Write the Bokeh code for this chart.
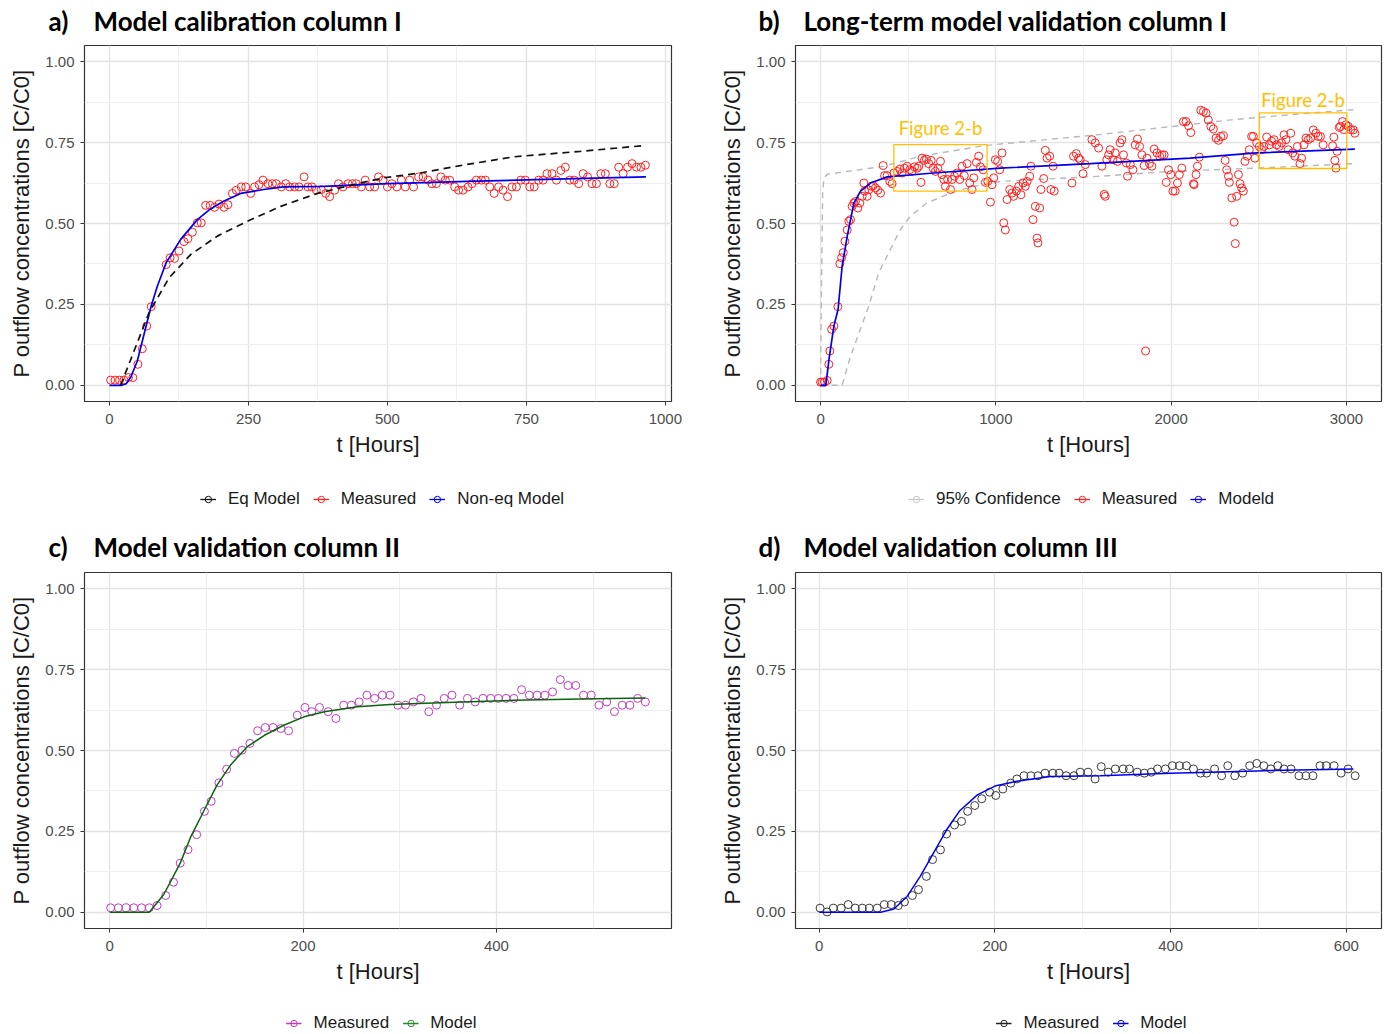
from bokeh.plotting import figure
from bokeh.models import Range1d, FixedTicker, NumeralTickFormatter, Legend, LegendItem, Label
from bokeh.layouts import column, row
from bokeh.embed import file_html
from bokeh.resources import INLINE
from bokeh.core.properties import value

# ---------------- data ----------------
# a) Model calibration column I
a_meas_t = [2, 10, 18, 26, 34, 42, 51, 59, 67, 75, 102, 109, 117, 125, 134, 141, 149, 158, 165, 173,
            181, 189, 197, 206, 213, 221, 228, 237, 245, 254, 261, 269, 276, 285, 293, 300, 309, 317, 324, 333,
            341, 350, 357, 364, 372, 381, 389, 396, 405, 412, 420, 429, 437, 444, 453, 460, 468, 477, 484, 492,
            500, 508, 517, 525, 532, 540, 547, 556, 564, 573, 580, 588, 596, 604, 612, 621, 628, 636, 645, 652,
            660, 669, 676, 684, 692, 700, 708, 716, 724, 732, 740, 748, 756, 764, 772, 780, 787, 796, 804, 812,
            820, 828, 836, 844, 852, 860, 868, 876, 884, 892, 900, 908, 916, 924, 932, 940, 948, 956, 964]
a_meas_c = [0.016, 0.016, 0.016, 0.016, 0.024, 0.024, 0.065, 0.113, 0.183, 0.243, 0.373, 0.394, 0.392, 0.415,
            0.444, 0.453, 0.473, 0.502, 0.502, 0.556, 0.556, 0.55, 0.56, 0.55, 0.558, 0.593, 0.603, 0.613, 0.613,
            0.593, 0.613, 0.62, 0.634, 0.623, 0.623, 0.623, 0.613, 0.623, 0.613, 0.613, 0.613, 0.644, 0.613, 0.613,
            0.603, 0.605, 0.593, 0.583, 0.603, 0.623, 0.613, 0.623, 0.623, 0.623, 0.613, 0.634, 0.613, 0.613, 0.644,
            0.634, 0.613, 0.623, 0.613, 0.634, 0.613, 0.634, 0.613, 0.644, 0.644, 0.634, 0.623, 0.623, 0.644, 0.634,
            0.634, 0.613, 0.603, 0.603, 0.613, 0.623, 0.634, 0.634, 0.634, 0.613, 0.593, 0.613, 0.603, 0.583, 0.613,
            0.613, 0.634, 0.634, 0.613, 0.613, 0.634, 0.634, 0.654, 0.654, 0.634, 0.664, 0.674, 0.634, 0.634, 0.623,
            0.654, 0.644, 0.623, 0.623, 0.654, 0.654, 0.623, 0.623, 0.674, 0.654, 0.674, 0.685, 0.674, 0.674, 0.68]
a_noneq_t = [0, 22, 30, 38, 50, 62, 75, 86, 102, 128, 158, 180, 205, 236, 277, 313, 385, 500, 644, 800, 965]
a_noneq_c = [0, 0, 0.005, 0.024, 0.075, 0.157, 0.245, 0.306, 0.379, 0.451, 0.512, 0.543, 0.569, 0.593,
             0.605, 0.613, 0.615, 0.623, 0.63, 0.637, 0.644]
a_eq_t = [20, 71, 107, 146, 194, 248, 308, 374, 446, 493, 559, 631, 727, 847, 964]
a_eq_c = [0.0, 0.224, 0.332, 0.404, 0.461, 0.507, 0.553, 0.593, 0.623, 0.641, 0.656, 0.679, 0.706, 0.723, 0.741]

# b) Long-term model validation column I
b_meas_t = [0, 9, 23, 38, 47, 53, 63, 76, 99, 110, 120, 129, 139, 152, 161, 171, 180, 190, 199, 213, 224, 237,
            247, 251, 266, 275, 289, 300, 313, 327, 342, 357, 365, 380, 395, 408, 418, 437, 452, 465, 479, 494,
            509, 522, 536, 551, 560, 573, 579, 592, 604, 617, 631, 642, 655, 669, 684, 693, 703, 712, 725, 741,
            750, 764, 779, 794, 807, 820, 836, 851, 864, 874, 889, 902, 912, 927, 940, 954, 969, 978, 988, 997,
            1010, 1022, 1035, 1045, 1054, 1064, 1079, 1092, 1101, 1117, 1130, 1143, 1155, 1168, 1178, 1193, 1200,
            1212, 1225, 1235, 1240, 1250, 1257, 1273, 1282, 1292, 1307, 1314, 1326, 1333, 1434, 1443, 1459, 1472,
            1481, 1497, 1510, 1548, 1567, 1586, 1605, 1618, 1624, 1633, 1643, 1652, 1668, 1681, 1694, 1709, 1719,
            1728, 1744, 1751, 1767, 1782, 1795, 1808, 1820, 1833, 1846, 1854, 1862, 1876, 1890, 1903, 1919, 1934,
            1947, 1960, 1972, 1985, 1998, 2010, 2023, 2036, 2047, 2061, 2070, 2085, 2099, 2112, 2127, 2131, 2142,
            2150, 2161, 2169, 2184, 2199, 2212, 2226, 2241, 2256, 2270, 2283, 2298, 2308, 2317, 2327, 2332, 2346,
            2359, 2366, 2374, 2384, 2393, 2402, 2412, 2421, 2434, 2446, 2459, 2469, 2478, 2488, 2503, 2516, 2529,
            2545, 2560, 2573, 2587, 2602, 2617, 2630, 2644, 2655, 2668, 2682, 2693, 2706, 2720, 2735, 2744, 2758,
            2769, 2782, 2796, 2811, 2826, 2839, 2852, 2867, 2921, 2928, 2934, 2940, 2947, 2959, 2966, 2978, 2985,
            2997, 3010, 3024, 3039, 3048]
b_meas_c = [0.01, 0.01, 0.01, 0.015, 0.065, 0.106, 0.173, 0.183, 0.243, 0.376, 0.394, 0.41, 0.445, 0.48, 0.507,
            0.512, 0.553, 0.563, 0.568, 0.548, 0.563, 0.584, 0.625, 0.6, 0.584, 0.604, 0.615, 0.617, 0.61, 0.603,
            0.594, 0.679, 0.648, 0.648, 0.63, 0.623, 0.656, 0.661, 0.668, 0.656, 0.671, 0.677, 0.666, 0.661, 0.675,
            0.671, 0.677, 0.627, 0.702, 0.695, 0.699, 0.685, 0.695, 0.671, 0.661, 0.671, 0.692, 0.651, 0.636, 0.615,
            0.636, 0.605, 0.636, 0.646, 0.656, 0.636, 0.677, 0.648, 0.685, 0.625, 0.605, 0.641, 0.689, 0.708, 0.675,
            0.666, 0.627, 0.63, 0.566, 0.62, 0.641, 0.697, 0.692, 0.666, 0.718, 0.502, 0.48, 0.574, 0.605, 0.594,
            0.584, 0.6, 0.615, 0.589, 0.625, 0.615, 0.63, 0.646, 0.677, 0.512, 0.553, 0.455, 0.44, 0.548, 0.605,
            0.639, 0.726, 0.702, 0.708, 0.605, 0.677, 0.6, 0.625, 0.708, 0.716, 0.702, 0.697, 0.654, 0.682, 0.759,
            0.749, 0.733, 0.677, 0.59, 0.584, 0.697, 0.712, 0.728, 0.697, 0.718, 0.692, 0.749, 0.759, 0.712, 0.687,
            0.646, 0.682, 0.666, 0.743, 0.761, 0.738, 0.712, 0.679, 0.106, 0.702, 0.685, 0.677, 0.73, 0.718, 0.708,
            0.712, 0.712, 0.627, 0.666, 0.651, 0.6, 0.6, 0.625, 0.651, 0.671, 0.815, 0.815, 0.802, 0.781, 0.623,
            0.62, 0.651, 0.677, 0.705, 0.85, 0.846, 0.841, 0.82, 0.8, 0.792, 0.764, 0.757, 0.769, 0.771, 0.695,
            0.666, 0.646, 0.627, 0.579, 0.504, 0.438, 0.584, 0.651, 0.623, 0.61, 0.6, 0.692, 0.708, 0.728, 0.769,
            0.769, 0.702, 0.749, 0.738, 0.728, 0.738, 0.767, 0.743, 0.754, 0.759, 0.743, 0.738, 0.749, 0.774, 0.759,
            0.728, 0.779, 0.718, 0.708, 0.738, 0.685, 0.702, 0.743, 0.764, 0.759, 0.764, 0.789, 0.779, 0.769, 0.769,
            0.743, 0.74, 0.767, 0.695, 0.671, 0.723, 0.797, 0.8, 0.815, 0.79, 0.805, 0.8, 0.79, 0.789, 0.779]
b_model_t = [0, 30, 48, 76, 100, 123, 152, 190, 228, 285, 380, 646, 1026, 1538, 2108, 2488, 3048]
b_model_c = [0, 0, 0.08, 0.183, 0.235, 0.368, 0.46, 0.563, 0.6, 0.625, 0.644, 0.656, 0.671, 0.685, 0.702,
             0.718, 0.73]
b_upper_t = [0, 5, 12, 20, 38, 361, 570, 940, 1595, 2355, 2678, 3048]
b_upper_c = [0, 0.3, 0.6, 0.64, 0.652, 0.677, 0.708, 0.741, 0.775, 0.821, 0.836, 0.852]
b_lower_t = [0, 123, 171, 275, 332, 389, 456, 513, 608, 741, 874, 1026, 1595, 1994, 2488, 3048]
b_lower_c = [0, 0, 0.09, 0.245, 0.348, 0.41, 0.482, 0.523, 0.564, 0.594, 0.615, 0.63, 0.646, 0.661, 0.671,
             0.685]
box_left = [418, 2503]
box_right = [950, 3002]
box_bottom = [0.600, 0.670]
box_top = [0.744, 0.842]
box_label = ["Figure 2-b", "Figure 2-b"]
box_label_t = [684, 2752]
box_label_c = [0.796, 0.883]

# c) Model validation column II
c_meas_t = [1, 9, 17, 25, 33, 41, 49, 58, 66, 73, 81, 90, 98, 105, 113, 121, 129, 137, 145, 153, 161, 169,
            177, 185, 194, 202, 209, 217, 226, 234, 242, 250, 258, 266, 274, 282, 290, 298, 306, 314, 322, 330,
            338, 346, 354, 362, 370, 378, 386, 394, 402, 410, 418, 426, 434, 442, 450, 458, 466, 474, 482, 490,
            498, 506, 514, 522, 530, 538, 546, 554]
c_meas_c = [0.014, 0.014, 0.014, 0.014, 0.014, 0.014, 0.021, 0.052, 0.093, 0.152, 0.194, 0.24, 0.312, 0.343,
            0.4, 0.442, 0.491, 0.501, 0.522, 0.561, 0.571, 0.571, 0.568, 0.561, 0.609, 0.633, 0.62, 0.633, 0.62,
            0.599, 0.64, 0.64, 0.65, 0.671, 0.661, 0.671, 0.671, 0.64, 0.64, 0.65, 0.661, 0.62, 0.64, 0.661,
            0.671, 0.64, 0.661, 0.65, 0.661, 0.661, 0.661, 0.661, 0.661, 0.688, 0.671, 0.671, 0.671, 0.681,
            0.719, 0.701, 0.701, 0.671, 0.671, 0.64, 0.65, 0.62, 0.64, 0.64, 0.661, 0.65]
c_model_t = [0, 41, 56, 73, 84, 98, 111, 125, 142, 160, 180, 201, 222, 256, 290, 349, 418, 487, 554]
c_model_c = [0, 0, 0.055, 0.152, 0.234, 0.317, 0.393, 0.455, 0.511, 0.547, 0.578, 0.604, 0.62, 0.635, 0.642,
             0.648, 0.655, 0.659, 0.662]

# d) Model validation column III
d_meas_t = [1, 9, 16, 25, 33, 41, 49, 57, 66, 74, 82, 90, 97, 106, 113, 122, 129, 138, 145, 154, 162, 169,
            177, 185, 194, 201, 209, 218, 225, 233, 241, 249, 257, 266, 273, 281, 290, 297, 306, 314, 321, 329,
            337, 346, 353, 362, 370, 378, 385, 394, 402, 410, 418, 426, 434, 441, 450, 458, 465, 473, 482, 490,
            498, 506, 514, 522, 529, 537, 546, 554, 562, 570, 577, 586, 594, 602, 610]
d_meas_c = [0.013, 0.001, 0.013, 0.013, 0.024, 0.013, 0.013, 0.013, 0.013, 0.024, 0.024, 0.021, 0.032, 0.052,
            0.07, 0.111, 0.163, 0.193, 0.242, 0.27, 0.281, 0.312, 0.33, 0.351, 0.371, 0.361, 0.381, 0.399, 0.412,
            0.422, 0.422, 0.422, 0.43, 0.43, 0.43, 0.422, 0.422, 0.433, 0.433, 0.412, 0.45, 0.433, 0.443, 0.443,
            0.443, 0.433, 0.43, 0.433, 0.443, 0.443, 0.453, 0.453, 0.453, 0.443, 0.43, 0.43, 0.443, 0.422, 0.453,
            0.422, 0.43, 0.453, 0.46, 0.453, 0.443, 0.453, 0.443, 0.443, 0.422, 0.422, 0.422, 0.453, 0.453,
            0.453, 0.43, 0.443, 0.422]
d_model_t = [0, 70, 85, 100, 115, 130, 145, 160, 180, 200, 225, 263, 320, 400, 498, 608]
d_model_c = [0, 0, 0.01, 0.049, 0.111, 0.183, 0.255, 0.314, 0.363, 0.39, 0.405, 0.42, 0.422, 0.43, 0.437,
             0.443]

y_ticks = [0, 0.25, 0.5, 0.75, 1.0]
y_minor = [0.125, 0.375, 0.625, 0.875]

TICK_FONT = "Liberation Sans"
W_LEFT, W_RIGHT = 711, 672

RED, BLUE, BLACK, GRAY = "#ff2020", "#0000ee", "#111111", "#b8b8b8"
MAGENTA, GREEN, DARK = "#c03cc0", "#0a640a", "#3a3a3a"


def make_fig(width, height, bottom, xr, xticks, xminor, right):
    p = figure(width=width, height=height, output_backend="svg", toolbar_location=None, title=None,
               x_range=Range1d(*xr), y_range=Range1d(-0.05, 1.05),
               min_border_left=84, min_border_right=right, min_border_top=1, min_border_bottom=bottom)
    p.xaxis.ticker = FixedTicker(ticks=xticks, minor_ticks=xminor)
    p.yaxis.ticker = FixedTicker(ticks=y_ticks, minor_ticks=y_minor)
    p.yaxis.formatter = NumeralTickFormatter(format="0.00")
    for ax in p.axis:
        ax.axis_line_color = None
        ax.major_tick_line_color = "#333333"
        ax.major_tick_out = 4
        ax.major_tick_in = 0
        ax.minor_tick_line_color = None
        ax.major_label_text_font = TICK_FONT
        ax.major_label_text_font_size = "15px"
        ax.major_label_text_color = "#4d4d4d"
        ax.axis_label_text_font = TICK_FONT
        ax.axis_label_text_font_size = "22px"
        ax.axis_label_text_font_style = "normal"
        ax.axis_label_text_color = "#1a1a1a"
    p.yaxis.major_label_standoff = 6
    p.yaxis.axis_label_standoff = 8
    p.xaxis.major_label_standoff = 8
    p.xaxis.axis_label_standoff = 5
    p.xaxis.axis_label = "t [Hours]"
    p.yaxis.axis_label = "P outflow concentrations [C/C0]"
    p.grid.grid_line_color = "#e3e3e3"
    p.grid.grid_line_width = 1.3
    p.grid.minor_grid_line_color = "#eeeeee"
    p.grid.minor_grid_line_width = 1
    p.outline_line_color = "#333333"
    p.outline_line_width = 1.2
    return p


def strip(width, height, left=0, right=0):
    s = figure(width=width, height=height, output_backend="svg", toolbar_location=None, title=None,
               x_range=Range1d(-2, -1), y_range=Range1d(-2, -1), x_axis_type=None, y_axis_type=None,
               min_border_left=left, min_border_right=right, min_border_top=0, min_border_bottom=0)
    s.outline_line_color = None
    s.grid.visible = False
    return s


def title_strip(width, height, tag, title, x_tag, x_title, y):
    s = strip(width, height)
    for txt, x in ((tag, x_tag), (title, x_title)):
        s.add_layout(Label(x=x, y=y, x_units="screen", y_units="screen", text=txt,
                           text_font="Lato", text_font_size="26px", text_font_style="bold",
                           text_color="#000000", text_baseline="middle", text_align="left"))
    return s


def legend_strip(width, height, left, right, series, top_margin):
    s = strip(width, height, left, right)
    items = []
    for label, color, xs, ys in series:
        lr = s.line(xs, ys, line_color=color, line_width=1.3)
        sr = s.scatter(xs, ys, marker="circle", fill_color=None, line_color=color, line_width=1)
        items.append(LegendItem(label=label, renderers=[lr, sr]))
    leg = Legend(items=items, orientation="horizontal", location="top_center",
                 border_line_color=None, background_fill_alpha=0, padding=0, margin=top_margin,
                 spacing=13, label_standoff=12, glyph_width=16, glyph_height=20, label_height=20,
                 label_text_font=TICK_FONT, label_text_font_size="17px", label_text_color="#1a1a1a")
    s.add_layout(leg)
    return s


# ---------- titles ----------
ta = title_strip(W_LEFT, 44, "a)", "Model calibration column I", 48, 93, 24)
tb = title_strip(W_RIGHT, 44, "b)", "Long-term model validation column I", 47, 92, 24)
tc = title_strip(W_LEFT, 41, "c)", "Model validation column II", 48, 93, 25)
td = title_strip(W_RIGHT, 41, "d)", "Model validation column III", 47, 92, 25)

# ---------- a ----------
pa = make_fig(W_LEFT, 440, 83, (-45, 1011), [0, 250, 500, 750, 1000], [125, 375, 625, 875], 40)
pa.scatter(a_meas_t, a_meas_c, marker="circle", size=8, fill_color=None, line_color=RED, line_width=1)
pa.line(a_noneq_t, a_noneq_c, line_color=BLUE, line_width=1.7)
pa.line(a_eq_t, a_eq_c, line_color=BLACK, line_width=1.7, line_dash="7 5")
la = legend_strip(W_LEFT, 46, 95, 42, [("Eq Model", BLACK, a_eq_t, a_eq_c),
                                       ("Measured", RED, a_meas_t, a_meas_c),
                                       ("Non-eq Model", BLUE, a_noneq_t, a_noneq_c)], 5)

# ---------- b ----------
pb = make_fig(W_RIGHT, 440, 83, (-143, 3200), [0, 1000, 2000, 3000], [500, 1500, 2500], 2)
pb.line(b_upper_t, b_upper_c, line_color=GRAY, line_width=1.4, line_dash="6 5")
pb.line(b_lower_t, b_lower_c, line_color=GRAY, line_width=1.4, line_dash="6 5")
pb.scatter(b_meas_t, b_meas_c, marker="circle", size=8, fill_color=None, line_color=RED, line_width=1)
pb.line(b_model_t, b_model_c, line_color=BLUE, line_width=1.7)
pb.quad(left=box_left, right=box_right, bottom=box_bottom, top=box_top, fill_color=None,
        line_color="#ffc000", line_width=1.3)
pb.text(x=box_label_t, y=box_label_c, text=box_label, text_font=value("Lato"), text_font_size="18.5px",
        text_color="#ffc000", text_align="center", text_baseline="middle")
lb = legend_strip(W_RIGHT, 46, 90, 2, [("95% Confidence", "#c8c8c8", b_upper_t, b_upper_c),
                                      ("Measured", RED, b_meas_t, b_meas_c),
                                      ("Modeld", BLUE, b_model_t, b_model_c)], 5)

# ---------- c ----------
pc = make_fig(W_LEFT, 439, 82, (-26, 581), [0, 200, 400], [100, 300, 500], 40)
pc.scatter(c_meas_t, c_meas_c, marker="circle", size=8, fill_color=None, line_color=MAGENTA, line_width=1)
pc.line(c_model_t, c_model_c, line_color=GREEN, line_width=1.5)
lc = legend_strip(W_LEFT, 23, 93, 42, [("Measured", MAGENTA, c_meas_t, c_meas_c),
                                       ("Model", "#2a8a2a", c_model_t, c_model_c)], 3)

# ---------- d ----------
pd_ = make_fig(W_RIGHT, 439, 82, (-27, 640), [0, 200, 400, 600], [100, 300, 500], 2)
pd_.scatter(d_meas_t, d_meas_c, marker="circle", size=8, fill_color=None, line_color=DARK, line_width=1)
pd_.line(d_model_t, d_model_c, line_color=BLUE, line_width=1.5)
ld = legend_strip(W_RIGHT, 23, 90, 2, [("Measured", "#222222", d_meas_t, d_meas_c),
                                      ("Model", BLUE, d_model_t, d_model_c)], 3)

layout = column(row(ta, tb), row(pa, pb), row(la, lb), row(tc, td), row(pc, pd_), row(lc, ld))
open("out.html", "w").write(file_html(layout, INLINE))
